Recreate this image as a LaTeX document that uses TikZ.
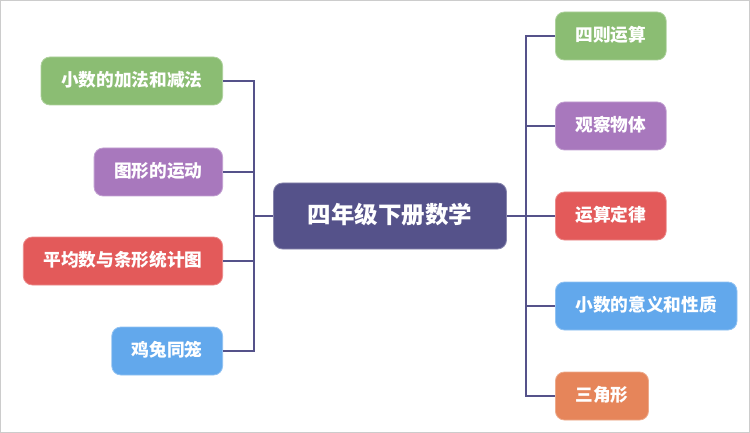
\documentclass[tikz,border=0pt]{standalone}
\usepackage{fontspec}
\newfontfamily\cjk{Noto Sans CJK SC}
\usepackage{tikz}
\definecolor{mapline}{HTML}{55528A}
\definecolor{mgreen}{HTML}{8BBD73}
\definecolor{mpurple}{HTML}{A878BD}
\definecolor{mred}{HTML}{E35A5A}
\definecolor{mblue}{HTML}{62A8EC}
\definecolor{morange}{HTML}{E6855A}
\tikzset{
  topic/.style={rounded corners=9pt,fill=#1,draw=#1!70!white,line width=0.8pt,
    text=white,font=\cjk\bfseries\fontsize{17.7}{17.7}\selectfont,
    minimum height=48pt,inner xsep=20pt,text height=14.5pt,text depth=3pt},
  link/.style={draw=mapline,line width=2pt}
}
\begin{document}
\begin{tikzpicture}[x=1pt,y=-1pt]
\useasboundingbox (0,0) rectangle (750,433);
\draw[draw=black!20,line width=1pt] (0.5,0.5) rectangle (749.5,432.5);
\node [rounded corners=9pt,fill=mapline,draw=mapline!70!white,line width=0.8pt,
  text=white,font=\cjk\bfseries\fontsize{23.5}{23.5}\selectfont,
  minimum width=233pt,minimum height=66pt,text height=19pt,text depth=4pt] (root) at (390,216) {四年级下册数学};
\node [topic=mgreen,anchor=east] (a) at (223,81) {小数的加法和减法};
\node [topic=mpurple,anchor=east] (b) at (223,172) {图形的运动};
\node [topic=mred,anchor=east] (c) at (223,261) {平均数与条形统计图};
\node [topic=mblue,anchor=east] (d) at (223,351) {鸡兔同笼};
\node [topic=mgreen,anchor=west] (p) at (555,36) {四则运算};
\node [topic=mpurple,anchor=west] (q) at (555,126) {观察物体};
\node [topic=mred,anchor=west] (r) at (555,216) {运算定律};
\node [topic=mblue,anchor=west] (s) at (555,306) {小数的意义和性质};
\node [topic=morange,anchor=west] (t) at (555,396) {三角形};
\coordinate (lj) at (254,216);
\coordinate (rj) at (526,216);
\draw [link] (lj) -- (root.west);
\draw [link] (root.east) -- (rj);
\foreach \n in {a,b,c,d}
  \draw [link] (\n.east) -| (lj);
\foreach \n in {p,q,r,s,t}
  \draw [link] (rj) |- (\n.west);
\end{tikzpicture}
\end{document}
